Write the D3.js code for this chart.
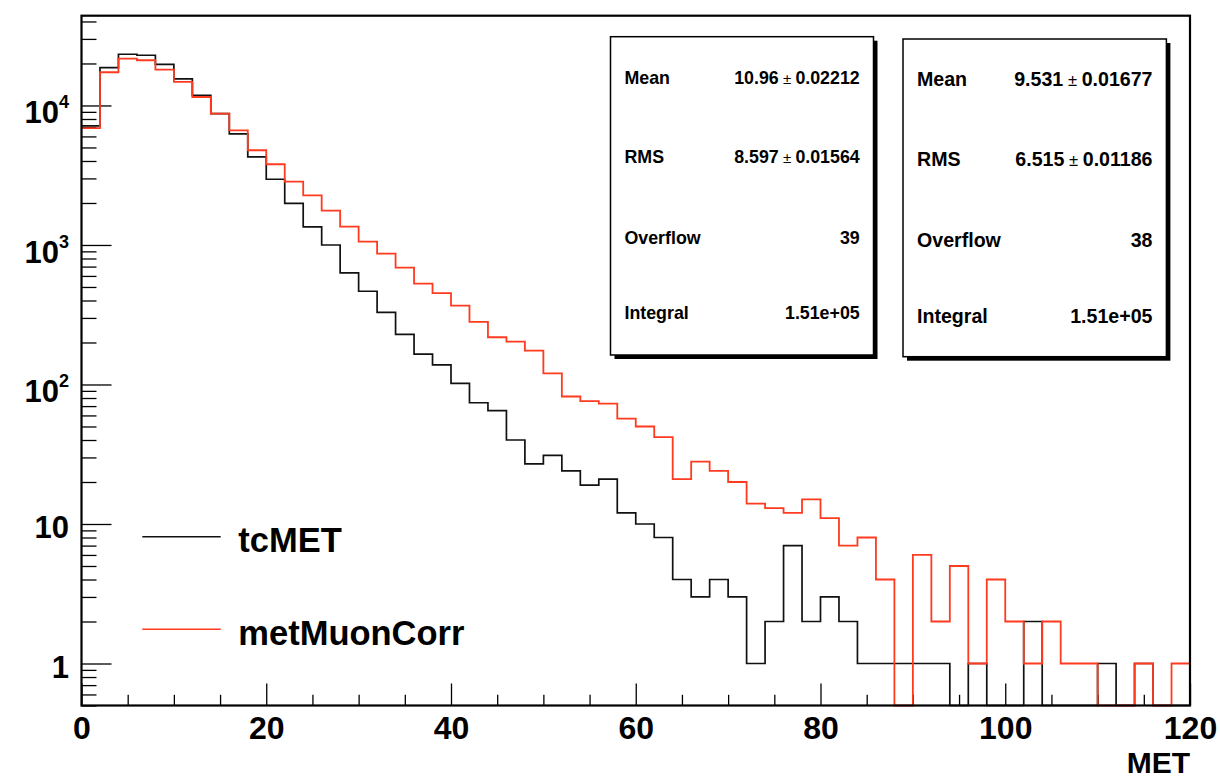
<!DOCTYPE html>
<html>
<head>
<meta charset="utf-8">
<script src="https://cdn.jsdelivr.net/npm/d3@7"></script>
<style>
  html, body { margin: 0; padding: 0; background: #fff; }
  svg { display: block; }
  text { font-family: "Liberation Sans", Arial, Helvetica, sans-serif; font-weight: bold; fill: #000; }
</style>
</head>
<body>
<script>
// ---------------- data ----------------
const binLow = 0, binWidth = 2;                 // MET histogram binning (60 bins, 0-120)
const tcMET = [
  7130, 18660, 23290, 22900, 19730, 15490, 11830, 8730, 6250, 4275,
  2958, 1990, 1346, 1000, 630, 466, 329, 229, 165, 138,
  102, 74, 65, 40, 27, 31, 24, 19, 21, 12,
  10, 8, 4, 3, 4, 3, 1, 2, 7, 2,
  3, 2, 1, 1, 1, 1, 1, 0, 1, 0,
  0, 2, 0, 0, 0, 1, 0, 1, 0, 0
];
const metMuonCorr = [
  6870, 17300, 21650, 21100, 18060, 14740, 11500, 8730, 6640, 4775,
  3790, 2843, 2264, 1762, 1352, 1056, 866, 688, 528, 451,
  367, 281, 218, 203, 175, 120, 82, 76, 73, 57,
  50, 42, 21, 28, 24, 20, 14, 13, 12, 15,
  11, 7, 8, 4, 0, 6, 2, 5, 1, 4,
  2, 1, 2, 1, 1, 0, 0, 1, 0, 1
];
const seriesNames = ["tcMET", "metMuonCorr"];
const xMajorTicks = [0, 20, 40, 60, 80, 100, 120];
const xMinorTicks = [5, 10, 15, 25, 30, 35, 45, 50, 55, 65, 70, 75, 85, 90, 95, 105, 110, 115];
const yMajorTicks = [1, 10, 100, 1000, 10000];
const yTickLabels = [["1", ""], ["10", ""], ["10", "2"], ["10", "3"], ["10", "4"]];
const xDomain = [0, 120];
const yDomain = [0.5, 44000];
const xTitle = "MET";
const statLabels = ["Mean", "RMS", "Overflow", "Integral"];
const stats1Main = ["10.96", "8.597", "39", "1.51e+05"];
const stats1Err  = ["0.02212", "0.01564", "", ""];
const stats2Main = ["9.531", "6.515", "38", "1.51e+05"];
const stats2Err  = ["0.01677", "0.01186", "", ""];

// ---------------- layout ----------------
const W = 1220, H = 779;
const fx0 = 81.5, fx1 = 1190, fy0 = 15.7, fy1 = 705.5;
const colBlack = "#111", colRed = "#ff3b1f";

const svg = d3.select("body").append("svg").attr("width", W).attr("height", H);

const x = d3.scaleLinear().domain(xDomain).range([fx0, fx1]);
const y = d3.scaleLog().domain(yDomain).range([fy1, fy0]);

// ---------------- axes ----------------
const gx = svg.append("g").attr("transform", `translate(0,${fy1})`);
gx.call(d3.axisBottom(x).tickValues(xMinorTicks).tickSize(-10.7).tickFormat(""));
const gx2 = svg.append("g").attr("transform", `translate(0,${fy1})`);
gx2.call(d3.axisBottom(x).tickValues(xMajorTicks).tickSize(-22).tickPadding(10.5).tickFormat(d3.format("d")));
[gx, gx2].forEach(g => {
  g.select(".domain").remove();
  g.selectAll("line").attr("stroke", "#000").attr("stroke-width", 1.3);
});
gx2.selectAll("text").attr("font-size", 32).attr("font-family", "Liberation Sans, Arial, sans-serif")
   .attr("font-weight", "bold").attr("fill", "#000");

// y minor ticks (2..9 x 10^n within the domain)
const yMinor = [];
for (let e = -1; e <= 4; e++) for (let k = 2; k <= 9; k++) {
  const v = k * Math.pow(10, e);
  if (v >= yDomain[0] && v <= yDomain[1]) yMinor.push(v);
}
const gy = svg.append("g").attr("transform", `translate(${fx0},0)`);
gy.call(d3.axisLeft(y).tickValues(yMinor).tickSize(-15).tickFormat(""));
const gy2 = svg.append("g").attr("transform", `translate(${fx0},0)`);
gy2.call(d3.axisLeft(y).tickValues(yMajorTicks).tickSize(-30).tickFormat(""));
[gy, gy2].forEach(g => {
  g.select(".domain").remove();
  g.selectAll("line").attr("stroke", "#000").attr("stroke-width", 1.3);
});
// y labels with superscripts
yMajorTicks.forEach((v, i) => {
  const [base, sup] = yTickLabels[i];
  const t = svg.append("text")
    .attr("x", 69)
    .attr("y", y(v) + (sup ? 18 : 14.5))
    .attr("text-anchor", "end")
    .attr("font-size", 31);
  t.append("tspan").text(base);
  if (sup) t.append("tspan").attr("font-size", 18).attr("dy", -15).text(sup);
});

// ---------------- histograms ----------------
function stepPoints(vals) {
  const pts = vals.map((v, i) => [binLow + i * binWidth, v]);
  pts.push([binLow + vals.length * binWidth, vals[vals.length - 1]]);
  return pts;
}
const line = d3.line()
  .x(d => x(d[0]))
  .y(d => y(Math.max(d[1], yDomain[0])))
  .curve(d3.curveStepAfter);

svg.append("path").datum(stepPoints(tcMET))
  .attr("d", line).attr("fill", "none").attr("stroke", colBlack).attr("stroke-width", 1.7);
svg.append("path").datum(stepPoints(metMuonCorr))
  .attr("d", line).attr("fill", "none").attr("stroke", colRed).attr("stroke-width", 1.8);

// ---------------- frame ----------------
svg.append("rect").attr("x", fx0).attr("y", fy0).attr("width", fx1 - fx0).attr("height", fy1 - fy0)
  .attr("fill", "none").attr("stroke", "#000").attr("stroke-width", 2.2);

// x title
svg.append("text").attr("x", 1190).attr("y", 773).attr("text-anchor", "end")
  .attr("font-size", 30).text(xTitle);

// ---------------- stats boxes ----------------
function statsBox(bx, by, bw, bh, fs, labelX, valueX, baselines, mains, errs) {
  svg.append("rect").attr("x", bx + 4).attr("y", by + 4).attr("width", bw).attr("height", bh).attr("fill", "#000");
  svg.append("rect").attr("x", bx).attr("y", by).attr("width", bw).attr("height", bh)
    .attr("fill", "#fff").attr("stroke", "#000").attr("stroke-width", 1.5);
  statLabels.forEach((lab, i) => {
    svg.append("text").attr("x", labelX).attr("y", baselines[i]).attr("font-size", fs).text(lab);
    const t = svg.append("text").attr("x", valueX).attr("y", baselines[i]).attr("font-size", fs)
      .attr("text-anchor", "end");
    t.append("tspan").text(mains[i]);
    if (errs[i]) {
      t.append("tspan").attr("font-size", fs * 0.85).attr("font-weight", "normal").text(" \u00b1 ");
      t.append("tspan").text(errs[i]);
    }
  });
}
statsBox(610.5, 36.7, 263, 318.3, 17.8, 624.5, 859.7, [84.3, 162.7, 244, 319.3], stats1Main, stats1Err);
statsBox(903, 39, 263.4, 317.7, 19.6, 917, 1152.5, [86, 166, 246.7, 322.7], stats2Main, stats2Err);

// ---------------- legend ----------------
const legY = [536.7, 629.3];
const legCols = [colBlack, colRed];
const legBase = [551.7, 645];
seriesNames.forEach((name, i) => {
  svg.append("line").attr("x1", 142.3).attr("x2", 220.7).attr("y1", legY[i]).attr("y2", legY[i])
    .attr("stroke", legCols[i]).attr("stroke-width", 1.4);
  svg.append("text").attr("x", 238.3).attr("y", legBase[i]).attr("font-size", 34.5).text(name);
});
</script>
</body>
</html>
